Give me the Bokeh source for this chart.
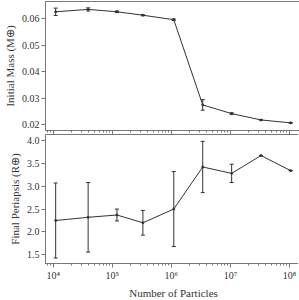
from bokeh.plotting import figure
from bokeh.models import (ColumnDataSource, Whisker, TeeHead, LogTicker, Range1d,
                          SingleIntervalTicker, PrintfTickFormatter, CustomJSTickFormatter)
from bokeh.layouts import gridplot
from bokeh.embed import file_html
from bokeh.resources import INLINE

particles = [1.1e4, 3.9e4, 1.2e5, 3.3e5, 1.1e6, 3.4e6, 1.05e7, 3.3e7, 1.05e8]
initial_mass = [0.0627, 0.0636, 0.0627, 0.0614, 0.0597, 0.0274, 0.0241, 0.0217, 0.0206]
initial_mass_err = [0.0014, 0.0006, 0.0003, 0.0002, 0.0003, 0.0020, 0.0003, 0.0001, 0.0001]
final_peri = [2.25, 2.32, 2.37, 2.20, 2.50, 3.42, 3.28, 3.67, 3.34]
final_peri_err = [0.82, 0.76, 0.13, 0.27, 0.82, 0.56, 0.20, 0.0, 0.0]
x_tick_labels = {10000: "10⁴", 100000: "10⁵", 1000000: "10⁶", 10000000: "10⁷", 100000000: "10⁸"}

FONT = "Liberation Serif"
SPINE = "#777777"
LINE = "#333333"

def make_src(y, err):
    return ColumnDataSource(dict(x=particles, y=y,
                                 lo=[a - b for a, b in zip(y, err)],
                                 hi=[a + b for a, b in zip(y, err)]))

def style(p, show_x_labels):
    p.outline_line_color = SPINE
    p.outline_line_width = 1
    p.grid.visible = False
    p.background_fill_color = "white"
    p.border_fill_color = "white"
    for ax in p.axis:
        ax.axis_line_color = SPINE
        ax.major_tick_line_color = SPINE
        ax.minor_tick_line_color = SPINE
        ax.major_tick_in = 0
        ax.major_tick_out = 4
        ax.minor_tick_in = 0
        ax.minor_tick_out = 2
        ax.major_label_text_font = FONT
        ax.major_label_text_font_size = "10px"
        ax.major_label_text_color = "#333333"
        ax.axis_label_text_font = FONT
        ax.axis_label_text_font_size = "11px"
        ax.axis_label_text_font_style = "normal"
        ax.axis_label_text_color = "#333333"
        ax.major_label_standoff = 2
        ax.axis_label_standoff = 3
    p.yaxis.minor_tick_line_color = None
    p.xaxis.ticker = LogTicker(num_minor_ticks=10)
    if show_x_labels:
        p.xaxis.major_label_overrides = x_tick_labels
    else:
        p.xaxis.formatter = CustomJSTickFormatter(code="return '';")
        p.xaxis.major_label_standoff = 0

def draw(p, src):
    p.line("x", "y", source=src, line_color=LINE, line_width=1)
    w = Whisker(source=src, base="x", lower="lo", upper="hi", dimension="height",
                line_color=LINE, line_width=1,
                upper_head=TeeHead(size=4, line_color=LINE, line_width=1),
                lower_head=TeeHead(size=4, line_color=LINE, line_width=1))
    p.add_layout(w)
    p.scatter("x", "y", source=src, size=2, color=LINE)

xr = Range1d(7400, 1.6e8)

p1 = figure(x_axis_type="log", x_range=xr, y_range=Range1d(0.0177, 0.0666),
            frame_width=256, frame_height=129, output_backend="svg",
            toolbar_location=None, min_border_top=1, min_border_bottom=0,
            min_border_right=2, min_border_left=30)
draw(p1, make_src(initial_mass, initial_mass_err))
style(p1, False)
p1.yaxis.axis_label = "Initial Mass (M⊕)"
p1.yaxis.ticker = SingleIntervalTicker(interval=0.01, num_minor_ticks=0)
p1.yaxis.formatter = PrintfTickFormatter(format="%.2f")

p2 = figure(x_axis_type="log", x_range=xr, y_range=Range1d(1.31, 4.13),
            frame_width=256, frame_height=129, output_backend="svg",
            toolbar_location=None, min_border_top=0, min_border_bottom=0,
            min_border_right=2, min_border_left=30)
draw(p2, make_src(final_peri, final_peri_err))
style(p2, True)
p2.yaxis.axis_label = "Final Periapsis (R⊕)"
p2.xaxis.axis_label = "Number of Particles"
p2.yaxis.ticker = SingleIntervalTicker(interval=0.5, num_minor_ticks=0)
p2.yaxis.formatter = PrintfTickFormatter(format="%.1f")

grid = gridplot([[p1], [p2]], toolbar_location=None)
open("out.html", "w").write(file_html(grid, INLINE))
